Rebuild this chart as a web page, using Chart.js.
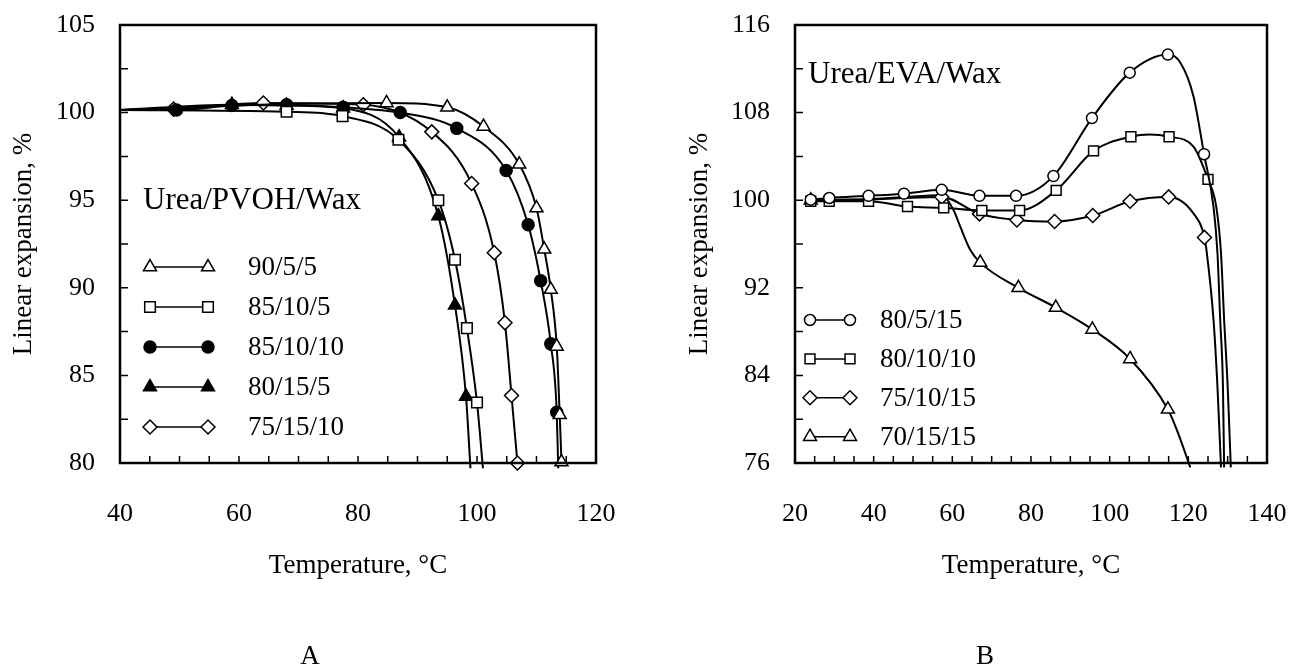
<!DOCTYPE html>
<html lang="en">
<head>
<meta charset="UTF-8">
<title>Linear expansion vs temperature</title>
<script src="https://cdn.jsdelivr.net/npm/chart.js"></script>
<style>
  body { margin: 0; background: #fff; }
  #wrap { position: relative; width: 1291px; height: 668px; font-family: 'Liberation Serif', 'Times New Roman', serif; }
  canvas { position: absolute; top: 0; }
  #chartA { left: 0; }
  #chartB { left: 645px; }
  .tag { position: absolute; top: 640px; width: 40px; font-size: 27px; text-align: center; color: #000; }
</style>
</head>
<body>
<div id="wrap">
  <canvas id="chartA" width="645" height="668"></canvas>
  <canvas id="chartB" width="646" height="668"></canvas>
  <div class="tag" style="left:290px">A</div>
  <div class="tag" style="left:965px">B</div>
</div>

<script>
// ---- Panel A: Urea/PVOH/Wax, [temperature °C, linear expansion %] ----
// plain arrays = points carrying a symbol, *Line = extra points
const pvoh90_5_5 = [[84.8,100.55],[95.0,100.3],[101.1,99.2],[107.1,97.05],[110.0,94.55],[111.3,92.2],[112.4,89.9],[113.4,86.65],[113.9,82.75],[114.2,80.05]];
const pvoh90_5_5Line = [[40,100.15],[55,100.35],[70,100.5]];
const pvoh85_10_5 = [[68.0,100.05],[77.4,99.8],[86.8,98.45],[93.5,95.0],[96.3,91.6],[98.3,87.7],[100.0,83.45]];
const pvoh85_10_5Line = [[40,100.15],[101.0,79.7]];
const pvoh85_10_10 = [[49.5,100.15],[58.8,100.4],[68.0,100.45],[77.5,100.3],[87.1,100.0],[96.6,99.1],[104.9,96.7],[108.6,93.6],[110.7,90.4],[112.4,86.8],[113.4,82.9]];
const pvoh85_10_10Line = [[40,100.15],[113.65,79.7]];
const pvoh80_15_5 = [[58.8,100.45],[68.0,100.4],[77.5,100.25],[86.9,98.6],[93.5,94.1],[96.3,89.0],[98.15,83.8]];
const pvoh80_15_5Line = [[40,100.15],[98.9,79.7]];
const pvoh75_15_10 = [[49.0,100.2],[64.1,100.55],[80.9,100.45],[92.4,98.9],[99.1,95.95],[102.9,92.0],[104.7,88.0],[105.8,83.85],[106.8,80.0]];
const pvoh75_15_10Line = [[40,100.15]];

// ---- Panel B: Urea/EVA/Wax ----
const eva80_5_15 = [[24.0,100.05],[28.7,100.2],[38.7,100.4],[47.7,100.6],[57.3,100.95],[66.9,100.4],[76.2,100.4],[85.7,102.2],[95.5,107.5],[105.1,111.65],[114.8,113.3],[124.0,104.2]];
const eva80_5_15Line = [[117.9,112.6],[121.3,109.5],[126.4,99.4],[127.4,95.2],[128.1,89.1],[128.8,83.0],[129.1,75.6]];
const eva80_10_10 = [[24.0,99.9],[28.7,99.9],[38.7,99.9],[48.6,99.42],[57.8,99.3],[67.5,99.06],[77.1,99.06],[86.4,100.9],[95.9,104.5],[105.4,105.8],[115.1,105.8],[125.0,101.9]];
const eva80_10_10Line = [[110.2,106.0],[121.3,104.9],[127.1,99.4],[128.3,95.2],[129.1,89.1],[130.0,83.0],[130.8,75.6]];
const eva75_10_15 = [[57.3,100.3],[66.9,98.75],[76.4,98.2],[86.0,98.05],[95.7,98.6],[105.2,99.9],[115.0,100.3],[124.1,96.6]];
const eva75_10_15Line = [[24.0,100.0],[28.7,100.0],[38.7,100.05],[47.7,100.2],[121.3,98.8],[124.7,95.2],[126.4,89.1],[127.4,83.0],[128.3,75.6]];
const eva70_15_15 = [[24.0,100.0],[67.1,94.3],[76.8,92.0],[86.3,90.2],[95.6,88.2],[105.2,85.5],[114.8,80.9]];
const eva70_15_15Line = [[28.7,100.05],[38.7,100.1],[47.7,100.3],[57.3,100.45],[60.3,99.1],[62.0,97.6],[64.5,95.5],[117.1,79.0],[120.5,75.6]];

const serif = "'Liberation Serif', 'Times New Roman', serif";

function series(label, marks, line, style, filled, r) {
    const pts = marks.map(p => ({ x: p[0], y: p[1], m: true }))
        .concat(line.map(p => ({ x: p[0], y: p[1], m: false })))
        .sort((a, b) => a.x - b.x);
    return {
        label: label,
        data: pts,
        borderColor: '#000',
        borderWidth: 2,
        pointStyle: style,
        markR: r,
        pointBackgroundColor: filled ? '#000' : '#fff',
        pointBorderColor: '#000',
        pointBorderWidth: 1.5,
        pointRadius: c => (c.raw && c.raw.m ? r : 0),
        pointHoverRadius: 0,
        cubicInterpolationMode: 'monotone',
        fill: false,
        clip: { left: 0, top: 0, right: 0, bottom: 8 }
    };
}

// inward ticks and the box around the plot
const framePlugin = {
    id: 'frame',
    afterDraw(chart, args, opts) {
        const ctx = chart.ctx, a = chart.chartArea, x = chart.scales.x, y = chart.scales.y;
        ctx.save();
        ctx.strokeStyle = '#000';
        ctx.lineWidth = 1.5;
        ctx.beginPath();
        for (let v = x.min + opts.xMinor; v < x.max - 1e-6; v += opts.xMinor) {
            const px = x.getPixelForValue(v);
            ctx.moveTo(px, a.bottom);
            ctx.lineTo(px, a.bottom - 7);
        }
        for (let v = y.min + opts.yMinor; v < y.max - 1e-6; v += opts.yMinor) {
            const py = y.getPixelForValue(v);
            ctx.moveTo(a.left, py);
            ctx.lineTo(a.left + 8, py);
        }
        ctx.stroke();
        ctx.lineWidth = 2.5;
        ctx.strokeRect(a.left, a.top, a.right - a.left, a.bottom - a.top);
        ctx.restore();
    }
};

// legend: symbol — line — symbol, then label
const keyPlugin = {
    id: 'key',
    afterDraw(chart, args, opts) {
        const ctx = chart.ctx;
        ctx.save();
        ctx.fillStyle = '#000';
        ctx.font = '31px ' + serif;
        ctx.textBaseline = 'alphabetic';
        ctx.fillText(opts.title, opts.titleX, opts.titleY);
        ctx.font = '27px ' + serif;
        ctx.textBaseline = 'middle';
        chart.data.datasets.forEach((ds, i) => {
            const yy = opts.top + i * opts.gap;
            ctx.strokeStyle = '#000';
            ctx.lineWidth = 1.5;
            ctx.beginPath();
            ctx.moveTo(opts.x0, yy);
            ctx.lineTo(opts.x1, yy);
            ctx.stroke();
            [opts.x0, opts.x1].forEach(px => {
                ctx.fillStyle = ds.pointBackgroundColor;
                ctx.strokeStyle = '#000';
                ctx.lineWidth = 1.5;
                Chart.helpers.drawPoint(ctx, { pointStyle: ds.pointStyle, radius: ds.markR, rotation: 0, borderWidth: 1.5 }, px, yy);
            });
            ctx.fillStyle = '#000';
            ctx.fillText(ds.label, opts.textX, yy + 1);
        });
        ctx.restore();
    }
};

function makeOptions(o) {
    return {
        responsive: false,
        animation: false,
        events: [],
        layout: { padding: { left: 0, top: 25, right: o.padRight, bottom: 0 } },
        plugins: {
            legend: { display: false },
            tooltip: { enabled: false },
            frame: { xMinor: 5, yMinor: o.yMinor },
            key: o.key
        },
        scales: {
            x: {
                type: 'linear',
                min: o.xMin, max: o.xMax,
                afterFit: s => { s.height = 205; s.paddingLeft = 0; s.paddingRight = 0; },
                grid: { display: false, drawTicks: false },
                border: { display: false },
                ticks: { stepSize: 20, autoSkip: false, maxRotation: 0, padding: 36, color: '#000', font: { family: serif, size: 26 } },
                title: { display: true, text: 'Temperature, °C', color: '#000', font: { family: serif, size: 27 }, padding: { top: 0, bottom: 86 } }
            },
            y: {
                type: 'linear',
                min: o.yMin, max: o.yMax,
                afterFit: s => { s.width = o.yWidth; s.paddingTop = 0; s.paddingBottom = 0; },
                grid: { display: false, drawTicks: false },
                border: { display: false },
                ticks: { stepSize: o.yStep, autoSkip: false, padding: 25, color: '#000', font: { family: serif, size: 26 } },
                title: { display: true, text: 'Linear expansion, %', color: '#000', font: { family: serif, size: 27 }, padding: { top: o.yTitlePad, bottom: 0 } }
            }
        }
    };
}

new Chart(document.getElementById('chartA'), {
    type: 'line',
    data: {
        datasets: [
            series('90/5/5', pvoh90_5_5, pvoh90_5_5Line, 'triangle', false, 7.5),
            series('85/10/5', pvoh85_10_5, pvoh85_10_5Line, 'rect', false, 7.5),
            series('85/10/10', pvoh85_10_10, pvoh85_10_10Line, 'circle', true, 6),
            series('80/15/5', pvoh80_15_5, pvoh80_15_5Line, 'triangle', true, 7.5),
            series('75/15/10', pvoh75_15_10, pvoh75_15_10Line, 'rectRot', false, 7)
        ]
    },
    options: makeOptions({
        xMin: 40, xMax: 120, yMin: 80, yMax: 105, yStep: 5, yMinor: 2.5,
        yWidth: 120, padRight: 49, yTitlePad: 8,
        key: { title: 'Urea/PVOH/Wax', titleX: 143, titleY: 209, top: 267, gap: 40, x0: 150, x1: 208, textX: 248 }
    }),
    plugins: [framePlugin, keyPlugin]
});

new Chart(document.getElementById('chartB'), {
    type: 'line',
    data: {
        datasets: [
            series('80/5/15', eva80_5_15, eva80_5_15Line, 'circle', false, 5.5),
            series('80/10/10', eva80_10_10, eva80_10_10Line, 'rect', false, 7),
            series('75/10/15', eva75_10_15, eva75_10_15Line, 'rectRot', false, 7),
            series('70/15/15', eva70_15_15, eva70_15_15Line, 'triangle', false, 7.5)
        ]
    },
    options: makeOptions({
        xMin: 20, xMax: 140, yMin: 76, yMax: 116, yStep: 8, yMinor: 4,
        yWidth: 150, padRight: 24, yTitlePad: 39,
        key: { title: 'Urea/EVA/Wax', titleX: 163, titleY: 83, top: 320, gap: 38.9, x0: 165, x1: 205, textX: 235 }
    }),
    plugins: [framePlugin, keyPlugin]
});
</script>
</body>
</html>
